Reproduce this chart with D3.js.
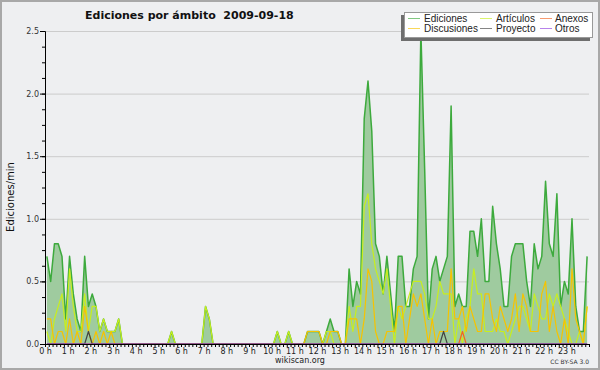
<!DOCTYPE html>
<html>
<head>
<meta charset="utf-8">
<title>Ediciones por ámbito</title>
<style>
  body { margin: 0; background: #fff; }
  svg { display: block; font-family: "DejaVu Sans", sans-serif; }
</style>
</head>
<body>
<svg id="chart"></svg>
<script src="https://cdn.jsdelivr.net/npm/d3@7/dist/d3.min.js"></script>
<script>
// one value per 10 minutes (edits/min), 144 bins over the day
var horas = ["0 h","1 h","2 h","3 h","4 h","5 h","6 h","7 h","8 h","9 h","10 h","11 h",
             "12 h","13 h","14 h","15 h","16 h","17 h","18 h","19 h","20 h","21 h","22 h","23 h"];

var ediciones = [
  0.7,0.5,0.8,0.8,0.7,0.2, 0.7,0.4,0.2,0.1,0.7,0.3,
  0.4,0.3,0.1,0.2,0.1,0.1, 0.1,0.2,0,0,0,0,
  0,0,0,0,0,0, 0,0,0,0.1,0,0,
  0,0,0,0,0,0, 0.3,0.2,0,0,0,0,
  0,0,0,0,0,0, 0,0,0,0,0,0,
  0,0.1,0,0,0.1,0, 0,0,0,0.1,0.1,0.1,
  0.1,0,0.1,0.2,0.1,0.1, 0,0,0.6,0.3,0.5,0.4,
  1.8,2.1,1.7,0.8,0.7,0.4, 0.7,0.4,0.1,0.7,0.7,0.3,
  0.3,0.6,0.7,2.5,1.4,0.2, 0.6,0.7,0.5,0.6,0.7,1.9,
  0.3,0.4,0.3,0.3,0.9,0.9, 0.7,1.0,0.5,0.5,1.1,0.8,
  0.6,0.3,0.3,0.7,0.8,0.8, 0.8,0.5,0.3,0.8,0.6,0.7,
  1.3,0.8,0.7,1.2,0.3,0.5, 0.4,1.0,0.3,0.1,0.1,0.7
];
var articulos = [
  0.1,0,0.2,0.3,0.4,0.1, 0.6,0.3,0.1,0.1,0.4,0.1,
  0.3,0.3,0.1,0.2,0.1,0.1, 0.1,0.2,0,0,0,0,
  0,0,0,0,0,0, 0,0,0,0.1,0,0,
  0,0,0,0,0,0, 0.3,0.2,0,0,0,0,
  0,0,0,0,0,0, 0,0,0,0,0,0,
  0,0.1,0,0,0.1,0, 0,0,0,0,0,0,
  0,0,0.1,0.1,0,0, 0,0,0.3,0.1,0.3,0.3,
  1.1,1.2,0.8,0.6,0.5,0.4, 0.6,0.3,0,0.3,0.2,0.3,
  0.4,0.5,0.5,0.5,0.4,0.2, 0.2,0.3,0.5,0.4,0.4,0.4,
  0,0.2,0,0.2,0.3,0.6, 0.4,0.4,0.1,0.1,0.1,0.2,
  0.1,0.1,0,0.1,0.2,0.3, 0.3,0.2,0.1,0.4,0.3,0.2,
  0.2,0.4,0.3,0.4,0.3,0.2, 0.1,0,0,0.1,0,0.3
];
var discusiones = [
  0.2,0.2,0,0.1,0.1,0, 0.2,0,0.1,0,0.3,0.1,
  0,0.1,0,0.1,0,0.1, 0,0,0,0,0,0,
  0,0,0,0,0,0, 0,0,0,0,0,0,
  0,0,0,0,0,0, 0,0,0,0,0,0,
  0,0,0,0,0,0, 0,0,0,0,0,0,
  0,0,0,0,0,0, 0,0,0,0.1,0.1,0.1,
  0.1,0,0,0.1,0.1,0.1, 0,0,0.2,0.2,0.2,0,
  0.2,0.6,0.5,0.1,0,0, 0.1,0.1,0.1,0.3,0.3,0,
  0.2,0.4,0.3,0.4,0.2,0, 0.2,0,0.1,0.1,0.1,0.6,
  0.2,0.2,0.3,0.1,0.3,0.2, 0.1,0.1,0.4,0.4,0.2,0.1,
  0.3,0.2,0.1,0.2,0.4,0.1, 0.4,0.3,0.1,0.1,0.1,0.4,
  0.5,0.1,0.3,0.1,0,0.2, 0,0.6,0.2,0.1,0,0.3
];
var proyecto = [
  0,0,0,0,0,0, 0,0,0,0,0,0.1, 0,0,0,0,0,0, 0,0,0,0,0,0,
  0,0,0,0,0,0, 0,0,0,0,0,0, 0,0,0,0,0,0, 0,0,0,0,0,0,
  0,0,0,0,0,0, 0,0,0,0,0,0, 0,0,0,0,0,0, 0,0,0,0,0,0,
  0,0,0,0,0,0, 0,0,0,0,0,0, 0,0,0,0,0,0, 0,0,0,0,0,0,
  0,0,0,0,0,0, 0,0,0,0.1,0,0, 0,0,0,0,0,0, 0,0,0,0,0,0,
  0,0,0,0,0,0, 0,0,0,0,0,0, 0,0,0,0,0,0, 0,0,0,0,0,0
];
var anexos = [
  0,0,0,0,0,0, 0,0,0,0,0,0, 0,0,0,0,0,0, 0,0,0,0,0,0,
  0,0,0,0,0,0, 0,0,0,0,0,0, 0,0,0,0,0,0, 0,0,0,0,0,0,
  0,0,0,0,0,0, 0,0,0,0,0,0, 0,0,0,0,0,0, 0,0,0,0,0,0,
  0,0,0,0,0,0, 0,0,0,0,0,0, 0,0,0,0,0,0, 0,0,0,0,0,0,
  0,0,0,0,0,0, 0,0,0,0,0,0, 0,0,0.1,0,0,0, 0,0,0,0,0,0,
  0,0,0,0,0,0, 0,0,0,0,0,0, 0,0,0,0,0,0, 0,0,0,0,0,0
];
var otros = [
  0,0,0,0,0,0, 0,0,0,0,0,0, 0,0,0,0,0,0, 0,0,0,0,0,0,
  0,0,0,0,0,0, 0,0,0,0,0,0, 0,0,0,0,0,0, 0,0,0,0,0,0,
  0,0,0,0,0,0, 0,0,0,0,0,0, 0,0,0,0,0,0, 0,0,0,0,0,0,
  0,0,0,0,0,0, 0,0,0,0,0,0, 0,0,0,0,0,0, 0,0,0,0,0,0,
  0,0,0,0,0,0, 0,0,0,0,0,0, 0,0,0,0,0,0, 0,0,0,0,0,0,
  0,0,0,0,0,0, 0,0,0,0,0,0, 0,0,0,0,0,0, 0,0,0,0,0,0
];

var series = [
  {name: "Ediciones",   values: ediciones,   color: "#3daa3d", width: 1.5},
  {name: "Artículos",   values: articulos,   color: "#c8ee1e", width: 1.2},
  {name: "Anexos",      values: anexos,      color: "#f26524", width: 1.2},
  {name: "Discusiones", values: discusiones, color: "#f6c300", width: 1.2},
  {name: "Proyecto",    values: proyecto,    color: "#444444", width: 1.2},
  {name: "Otros",       values: otros,       color: "#9040e0", width: 1.2}
];

var width = 600, height = 370;
var x = d3.scaleLinear().domain([0, 24]).range([45, 589]);
var y = d3.scaleLinear().domain([0, 2.5]).range([344, 31]);

var svg = d3.select("#chart").attr("width", width).attr("height", height);

svg.append("rect")
  .attr("x", 1).attr("y", 1)
  .attr("width", width - 2).attr("height", height - 2)
  .attr("fill", "#eeeff1")
  .attr("stroke", "#a8a8a8")
  .attr("stroke-width", 2);

// grid
svg.append("g").selectAll("line")
  .data([0.5, 1, 1.5, 2, 2.5])
  .enter().append("line")
  .attr("x1", x(0)).attr("x2", x(24))
  .attr("y1", function(d) { return y(d) + 0.5; })
  .attr("y2", function(d) { return y(d) + 0.5; })
  .attr("stroke", "#cccccc");

// bin i is drawn at the middle of its 10 minutes
function hora(i) { return (i + 0.5) / 6; }

var area = d3.area()
  .x(function(d, i) { return x(hora(i)); })
  .y0(y(0))
  .y1(function(d) { return y(d); });

var line = d3.line()
  .x(function(d, i) { return x(hora(i)); })
  .y(function(d) { return y(d); });

svg.append("path")
  .attr("d", area(ediciones))
  .attr("fill", "#9fcb9f");

var order = ["Ediciones", "Artículos", "Discusiones", "Anexos", "Proyecto", "Otros"];
order.forEach(function(n) {
  var s = series.filter(function(d) { return d.name === n; })[0];
  svg.append("path")
    .attr("d", line(s.values))
    .attr("fill", "none")
    .attr("stroke", s.color)
    .attr("stroke-width", s.width)
    .attr("stroke-linejoin", "round");
});

// axes
var xAxis = d3.axisBottom(x)
  .tickValues(d3.range(0, 145).map(function(k) { return k / 6; }))
  .tickSize(3)
  .tickSizeOuter(0)
  .tickPadding(1)
  .tickFormat(function(d, i) { return i % 6 === 0 && i < 144 ? horas[i / 6] : ""; });

svg.append("g")
  .attr("transform", "translate(0," + y(0) + ")")
  .call(xAxis)
  .call(function(g) {
    g.selectAll("text").attr("font-size", 8).attr("font-family", "DejaVu Sans").attr("fill", "#222");
    g.select(".domain").attr("stroke", "#000");
  });

var yMinor = d3.axisLeft(y)
  .tickValues(d3.range(0, 2.51, 0.125))
  .tickSize(3)
  .tickSizeOuter(0)
  .tickFormat("");

svg.append("g")
  .attr("transform", "translate(" + x(0) + ",0)")
  .call(yMinor);

var yAxis = d3.axisLeft(y)
  .tickValues([0, 0.5, 1, 1.5, 2, 2.5])
  .tickSize(5)
  .tickSizeOuter(0)
  .tickPadding(1)
  .tickFormat(d3.format(".1f"));

svg.append("g")
  .attr("transform", "translate(" + x(0) + ",0)")
  .call(yAxis)
  .call(function(g) {
    g.selectAll("text").attr("font-size", 8).attr("font-family", "DejaVu Sans").attr("fill", "#333");
  });

// texts
svg.append("text")
  .attr("x", 85).attr("y", 19)
  .attr("font-size", 11)
  .attr("font-weight", "bold")
  .attr("fill", "#111")
  .style("white-space", "pre")
  .text("Ediciones por ámbito  2009-09-18");

svg.append("text")
  .attr("transform", "translate(14,197) rotate(-90)")
  .attr("text-anchor", "middle")
  .attr("font-size", 10)
  .attr("fill", "#111")
  .text("Ediciones/min");

svg.append("text")
  .attr("x", 300).attr("y", 363)
  .attr("text-anchor", "middle")
  .attr("font-size", 8)
  .attr("fill", "#222")
  .text("wikiscan.org");

svg.append("text")
  .attr("x", 589).attr("y", 364)
  .attr("text-anchor", "end")
  .attr("font-size", 6)
  .attr("fill", "#333")
  .text("CC BY-SA 3.0");

// legend
var legend = svg.append("g");
legend.append("rect")
  .attr("x", 401).attr("y", 15).attr("width", 189).attr("height", 26)
  .attr("fill", "#6e6e6e");
legend.append("rect")
  .attr("x", 404.5).attr("y", 12.5).attr("width", 188).attr("height", 25)
  .attr("fill", "#fff").attr("stroke", "#999");

var cols = [408, 480, 540];
var items = legend.selectAll("g.item")
  .data(series)
  .enter().append("g")
  .attr("transform", function(d, i) {
    return "translate(" + cols[i % 3] + "," + (i < 3 ? 18.5 : 28.5) + ")";
  });
items.append("line")
  .attr("x1", 0).attr("x2", 12)
  .attr("stroke", function(d) { return d.color; })
  .attr("stroke-opacity", 0.65)
  .attr("stroke-width", 1);
items.append("text")
  .attr("x", function(d, i) { return i % 3 === 2 ? 15 : 16; })
  .attr("y", 3.5)
  .attr("font-family", "Liberation Sans")
  .attr("font-size", 10)
  .attr("fill", "#222")
  .text(function(d) { return d.name; });
</script>
</body>
</html>
